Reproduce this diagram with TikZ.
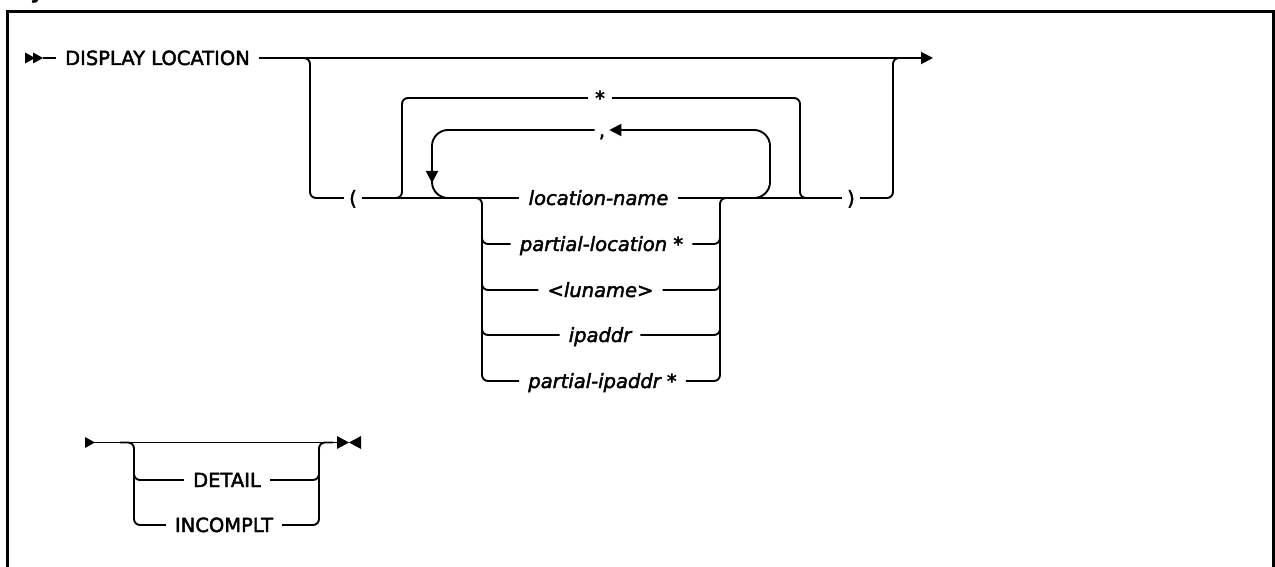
\documentclass[tikz,border=0pt]{standalone}
\usepackage{fontspec}
\setmainfont{DejaVu Sans}
\newfontfamily\rrfont{DejaVu Sans}[FakeBold=2.2, ItalicFeatures={FakeBold=2.2}]
\usetikzlibrary{arrows.meta}
\tikzset{
  rr/.style={line width=1.9pt, rounded corners=6pt},
  loopr/.style={line width=1.9pt, rounded corners=16pt},
  tip/.style={-{Triangle[length=12pt,width=12pt]}},
  kw/.style={font=\rrfont\fontsize{19.5}{22}\selectfont, inner xsep=9pt, inner ysep=0pt, text height=14pt, text depth=0pt},
  var/.style={kw, font=\rrfont\fontsize{19.5}{22}\selectfont\itshape},
  sym/.style={kw, inner xsep=5pt},
  frame/.style={line width=2.7pt},
  headtri/.style={fill=black}
}
\begin{document}
\begin{tikzpicture}[x=1pt,y=-1pt]
\path[use as bounding box] (0,0) rectangle (1275,567);
% frame and cut-off title
\draw[frame] (7.8,590) -- (7.8,11.3) -- (1273.6,11.3) -- (1273.6,590);
\node[font=\fontsize{22}{24}\selectfont\bfseries, anchor=base, inner sep=0pt] (ttl) at (37,-1) {y};

% ---------- first line ----------
\coordinate (s1) at (43,58);
\fill[headtri] (25,52.5) -- (35,58) -- (25,63.5) -- cycle;
\fill[headtri] (33,52.5) -- (43,58) -- (33,63.5) -- cycle;
\node[kw] (dl) at (157.5,58) {DISPLAY LOCATION};
\coordinate (e1) at (933,58);
\draw[rr] (s1) -- (dl.west);
\draw[rr,tip] (dl.east) -- (e1);

% optional group brackets
\node[sym] (lp) at (353,198) {(};
\node[sym] (rp) at (851,198) {)};
\coordinate (lb) at (298,58);
\coordinate (rb) at (906,58);
\draw[rr] (lb) -- (310,58) -- (310,198) -- (lp.west);
\draw[rr] (rp.east) -- (893,198) -- (893,58) -- (rb);

% choices
\node[var] (a1) at (598.5,198) {location-name};
\node[var] (a2) at (601.5,244) {partial-location *};
\node[var] (a3) at (600.5,290) {<luname>};
\node[var] (a4) at (600,335) {ipaddr};
\node[var] (a5) at (602.5,381) {partial-ipaddr *};

\draw[rr] (lp.east) -- (a1.west);
\draw[rr] (a1.east) -- (rp.west);

\coordinate (cl) at (470,198);
\coordinate (cr) at (732,198);
\draw[rr] (cl) -- (482,198) -- (482,381) -- (a5.west);
\draw[rr] (482,224) -- (482,244) -- (a2.west);
\draw[rr] (482,270) -- (482,290) -- (a3.west);
\draw[rr] (482,315) -- (482,335) -- (a4.west);
\draw[rr] (a5.east) -- (720,381) -- (720,198) -- (cr);
\draw[rr] (a2.east) -- (720,244) -- (720,224);
\draw[rr] (a3.east) -- (720,290) -- (720,270);
\draw[rr] (a4.east) -- (720,335) -- (720,315);

% "*" bypass
\node[sym, inner xsep=7pt] (st) at (600,98) {*};
\coordinate (sl) at (392,198);
\coordinate (sr) at (810,198);
\draw[rr] (sl) -- (402,198) -- (402,98) -- (st.west);
\draw[rr] (st.east) -- (800,98) -- (800,198) -- (sr);

% "," repeat loop
\node[sym, inner xsep=4pt] (cm) at (602,130) {,};
\coordinate (rl) at (740,198);
\coordinate (rd) at (432,183);
\coordinate (rm) at (432,172);
\coordinate (rn) at (462,198);
\draw[loopr,tip] (rl) -- (770,198) -- (770,130) -- (cm.east);
\draw[loopr,tip] (cm.west) -- (432,130) -- (rd);
\draw[loopr] (rm) -- (432,198) -- (rn);

% ---------- second line ----------
\coordinate (s2) at (95,442.5);
\coordinate (e2) at (337,442.5);
\fill[headtri] (85,437) -- (95,442.5) -- (85,448) -- cycle;
\fill[headtri] (337,436) -- (349,442.5) -- (337,449) -- cycle;
\fill[headtri] (361,436) -- (349,442.5) -- (361,449) -- cycle;
\draw[rr] (s2) -- (e2);

\node[kw] (dt) at (227,480) {DETAIL};
\node[kw] (ic) at (224,525) {INCOMPLT};
\coordinate (dl2) at (120,442.5);
\coordinate (dr2) at (333,442.5);
\draw[rr] (dl2) -- (134,442.5) -- (134,525) -- (ic.west);
\draw[rr] (134,460) -- (134,480) -- (dt.west);
\draw[rr] (ic.east) -- (319,525) -- (319,442.5) -- (dr2);
\draw[rr] (dt.east) -- (319,480) -- (319,460);
\end{tikzpicture}
\end{document}
